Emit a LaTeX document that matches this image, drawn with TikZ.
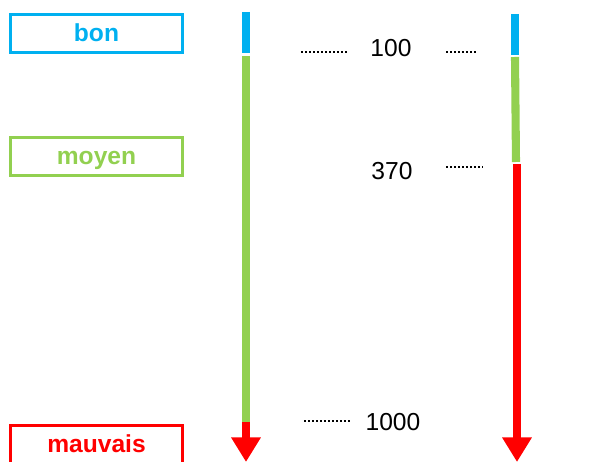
\documentclass[tikz,border=0pt]{standalone}
\usepackage{fontspec}
\setmainfont{Liberation Sans}
\usetikzlibrary{arrows.meta}
\definecolor{bleu}{RGB}{0,176,240}
\definecolor{vert}{RGB}{146,208,80}
\definecolor{rouge}{RGB}{255,0,0}
\begin{document}
\begin{tikzpicture}[x=0.02cm, y=-0.02cm, box/.style={draw, line width=1.7pt, minimum width=3.44cm, minimum height=0.76cm, inner sep=0pt, text height=11pt, text depth=1.4pt, font=\bfseries\fontsize{14}{16}\selectfont}, bar/.style={line width=4.6pt}, num/.style={font=\fontsize{14}{16}\selectfont}, pts/.style={line width=1.1pt, dash pattern=on 1.1pt off 1.2pt}, head/.style={-{Triangle[length=14pt, width=16pt]}}]
  \useasboundingbox (0,0) rectangle (609,462);
  \node[box, color=bleu] (bon) at (96.5,33.5) {bon};
  \node[box, color=vert] (moyen) at (96.5,156.5) {moyen};
  \node[box, color=rouge] (mauvais) at (96.5,444.5) {mauvais};
  \node[num] (n100) at (391,48) {100};
  \node[num] (n370) at (392,171) {370};
  \node[num] (n1000) at (393,422) {1000};
  % left scale
  \coordinate (a0) at (246,12); \coordinate (a1) at (246,53);
  \coordinate (a2) at (246,56); \coordinate (a3) at (246,422);
  \coordinate (a4) at (246,462);
  \draw[bar, bleu] (a0) -- (a1);
  \draw[bar, vert] (a2) -- (a3);
  \draw[bar, rouge, head] (a3) -- (a4);
  % right scale
  \coordinate (b0) at (515,14); \coordinate (b1) at (515,55);
  \coordinate (b2) at (515,57); \coordinate (b3) at (516,162);
  \coordinate (b4) at (517,164); \coordinate (b5) at (517,462);
  \draw[bar, bleu] (b0) -- (b1);
  \draw[bar, vert] (b2) -- (b3);
  \draw[bar, rouge, head] (b4) -- (b5);
  % dots
  \draw[pts] (301,52) -- (348,52);
  \draw[pts] (446,52) -- (476,52);
  \draw[pts] (446,167) -- (483,167);
  \draw[pts] (304,421) -- (352,421);
\end{tikzpicture}
\end{document}
